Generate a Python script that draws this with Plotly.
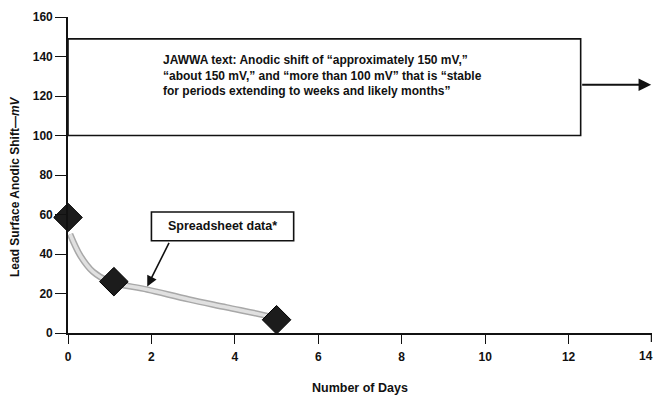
import plotly.graph_objects as go

# Data
days = [0, 1.1, 5]
anodic_shift = [58.5, 26, 6.7]

trend_days = [0.05, 0.3, 0.6, 1.0, 1.9, 2.9, 3.8, 4.8, 5.1]
trend_shift = [50, 39, 31, 26, 22, 17, 13, 8.5, 6.5]

x_ticks = [0, 2, 4, 6, 8, 10, 12, 14]
y_ticks = [0, 20, 40, 60, 80, 100, 120, 140, 160]

jawwa_lines = [
    "JAWWA text: Anodic shift of “approximately 150 mV,”",
    "“about 150 mV,” and “more than 100 mV” that is “stable",
    "for periods extending to weeks and likely months”",
]

FONT = "Liberation Sans, Arial, Helvetica, sans-serif"
INK = "#111111"

fig = go.Figure()

# trend band (outer darker edge + lighter core)
fig.add_trace(go.Scatter(x=trend_days, y=trend_shift, mode="lines",
                         line=dict(color="#a8a8a8", width=6.5, shape="spline"),
                         hoverinfo="skip", showlegend=False))
fig.add_trace(go.Scatter(x=trend_days, y=trend_shift, mode="lines",
                         line=dict(color="#e0e0e0", width=3.5, shape="spline"),
                         hoverinfo="skip", showlegend=False))

# data diamonds
fig.add_trace(go.Scatter(x=days, y=anodic_shift, mode="markers",
                         marker=dict(symbol="diamond", size=22, color="#1c1c1c",
                                     line=dict(color="#000000", width=1)),
                         cliponaxis=False, showlegend=False))

# JAWWA box
fig.add_shape(type="rect", xref="x", yref="y", x0=0, x1=12.29, y0=100, y1=148.9,
              line=dict(color=INK, width=1.6), fillcolor="rgba(0,0,0,0)")

fig.add_annotation(x=2.22, y=130.3, xref="x", yref="y", text="<br>".join(jawwa_lines),
                   showarrow=False, xanchor="left", yanchor="middle", align="left",
                   font=dict(family=FONT, size=12, color=INK, weight="bold"))

# big arrow to the right
fig.add_annotation(x=13.98, y=125.7, ax=12.29, ay=125.7, xref="x", yref="y",
                   axref="x", ayref="y", text="", showarrow=True,
                   arrowhead=2, arrowsize=1.4, arrowwidth=1.8, arrowcolor=INK)

# Spreadsheet data label box
fig.add_shape(type="rect", xref="x", yref="y", x0=2.0, x1=5.41, y0=46.7, y1=61.3,
              line=dict(color=INK, width=1.6), fillcolor="white")
fig.add_annotation(x=3.705, y=54.2, xref="x", yref="y", text="Spreadsheet data*",
                   showarrow=False, xanchor="center", yanchor="middle",
                   font=dict(family=FONT, size=12.5, color=INK, weight="bold"))
fig.add_annotation(x=1.9, y=23.6, ax=2.44, ay=46.4, xref="x", yref="y",
                   axref="x", ayref="y", text="", showarrow=True,
                   arrowhead=2, arrowsize=1.3, arrowwidth=1.6, arrowcolor=INK)

# last x tick label, kept just inside the page edge
fig.add_annotation(x=x_ticks[-1], y=0, xref="x", yref="y", yshift=-23, xshift=3,
                   text=str(x_ticks[-1]), showarrow=False,
                   xanchor="right", yanchor="middle",
                   font=dict(family=FONT, size=12, color=INK, weight="bold"))

# axis titles as annotations
fig.add_annotation(x=0.5, y=0, xref="paper", yref="paper", yshift=-55,
                   text="Number of Days", showarrow=False,
                   xanchor="center", yanchor="middle",
                   font=dict(family=FONT, size=12.5, color=INK, weight="bold"))
fig.add_annotation(x=0, y=0.462, xref="paper", yref="paper", xshift=-53,
                   text="Lead Surface Anodic Shift—<i>mV</i>", textangle=-90,
                   showarrow=False, xanchor="center", yanchor="middle",
                   font=dict(family=FONT, size=12, color=INK, weight="bold"))

fig.update_xaxes(range=[0, 14], tickvals=x_ticks[:-1], ticktext=[str(v) for v in x_ticks[:-1]],
                 showgrid=False, zeroline=False, showline=True, linecolor=INK,
                 linewidth=1.6, ticks="outside", ticklen=9, tickwidth=1.2,
                 tickcolor=INK, ticklabelstandoff=3, automargin=False,
                 tickfont=dict(family=FONT, size=12, color=INK, weight="bold"))
fig.update_yaxes(range=[0, 160], tickvals=y_ticks, ticktext=[str(v) for v in y_ticks],
                 showgrid=False, zeroline=False, showline=True, linecolor=INK,
                 linewidth=1.6, ticks="outside", ticklen=11, tickwidth=1.2,
                 tickcolor=INK, automargin=False,
                 tickfont=dict(family=FONT, size=12, color=INK, weight="bold"))

# tick mark at the last x position
fig.add_shape(type="line", xref="x", yref="paper", ysizemode="pixel", yanchor=0,
              x0=x_ticks[-1] - 0.015, x1=x_ticks[-1] - 0.015, y0=-9, y1=0,
              line=dict(color=INK, width=1.2))

fig.update_layout(
    template="none",
    width=654, height=395,
    margin=dict(l=68, r=2, t=17, b=62),
    paper_bgcolor="white", plot_bgcolor="white",
    font=dict(family=FONT, size=12, color=INK),
    showlegend=False,
)

fig.write_html("out.html")
